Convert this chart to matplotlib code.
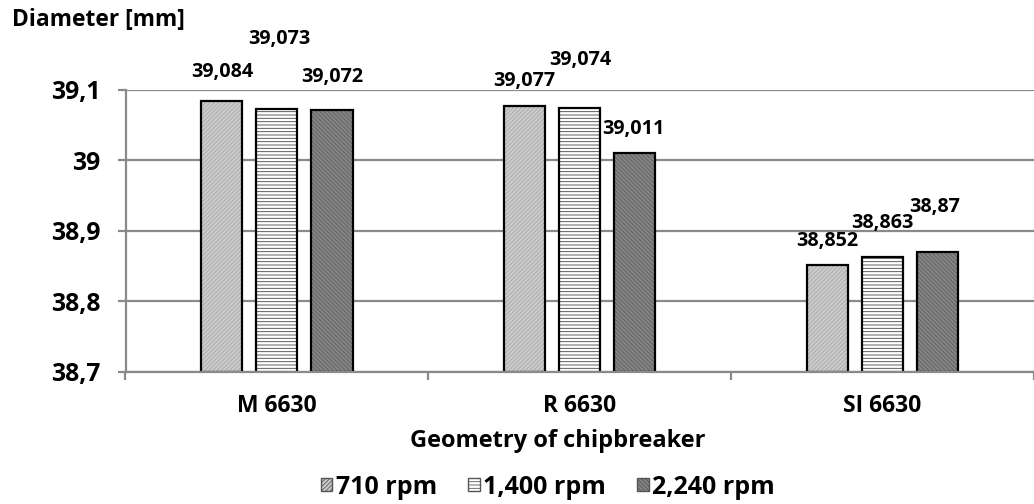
import matplotlib
matplotlib.use("Agg")
import matplotlib.pyplot as plt
import numpy as np
from matplotlib.patches import Patch

plt.rcParams['font.family'] = ['Open Sans', 'DejaVu Sans']
plt.rcParams['font.weight'] = 'bold'
plt.rcParams['hatch.linewidth'] = 0.6

categories = ["M 6630", "R 6630", "SI 6630"]
series_names = ["710 rpm", "1,400 rpm", "2,240 rpm"]
rpm_710 = [39.084, 39.077, 38.852]
rpm_1400 = [39.073, 39.074, 38.863]
rpm_2240 = [39.072, 39.011, 38.870]
labels_710 = ["39,084", "39,077", "38,852"]
labels_1400 = ["39,073", "39,074", "38,863"]
labels_2240 = ["39,072", "39,011", "38,87"]
yticks = [38.7, 38.8, 38.9, 39.0, 39.1]
ytick_labels = ["38,7", "38,8", "38,9", "39", "39,1"]

series = [rpm_710, rpm_1400, rpm_2240]
series_labels = [labels_710, labels_1400, labels_2240]

# label offsets in pixels (dx, dy above bar top), per series per category
offsets_px = [
    [(0, 29.5), (0, 25), (0, 24)],
    [(2.5, 70), (0, 48), (0, 33.5)],
    [(0, 33), (-1, 23.5), (-3, 44.5)],
]

styles = [
    dict(fc="#cccccc", hc="#a8a8a8", hatch="////////"),
    dict(fc="#ffffff", hc="#444444", hatch="-----"),
    dict(fc="#858585", hc="#5e5e5e", hatch="\\\\\\\\\\\\\\\\"),
]

W, H, DPI = 1034, 504, 100
fig = plt.figure(figsize=(W / DPI, H / DPI), dpi=DPI)
left_px, right_px = 125.5, 1034
top_px, bot_px = 90, 371.5
ax = fig.add_axes([left_px / W, 1 - bot_px / H, (right_px - left_px) / W, (bot_px - top_px) / H])

cat_w = 305.5
x = np.arange(len(categories))
ax.set_xlim(-0.5, -0.5 + (right_px - left_px) / cat_w)
ax.set_ylim(38.7, 39.1)

bar_w = 41.5 / cat_w
step = 55.5 / cat_w
gray = "#8a8a8a"

for i, (vals, st) in enumerate(zip(series, styles)):
    pos = x + (i - 1) * step
    ax.bar(pos, np.array(vals) - 38.7, bottom=38.7, width=bar_w, color=st["fc"],
           edgecolor=st["hc"], hatch=st["hatch"], linewidth=0, zorder=3)
    ax.bar(pos, np.array(vals) - 38.7, bottom=38.7, width=bar_w, fill=False,
           edgecolor="black", linewidth=1.6, zorder=4)
    for j, (p, v) in enumerate(zip(pos, vals)):
        dx, dy = offsets_px[i][j]
        ax.annotate(series_labels[i][j], (p, v), xytext=(dx * 0.72, dy * 0.72),
                    textcoords="offset points", ha="center", va="center",
                    fontsize=14.2, fontweight="bold", annotation_clip=False)

ax.set_yticks(yticks)
ax.set_yticklabels(ytick_labels, fontsize=17.8, fontweight="bold")
ax.set_xticks(x)
ax.set_xticklabels(categories, fontsize=16.5, fontweight="bold")
ax.set_xticks(np.arange(-0.5, 3.0, 1.0), minor=True)
ax.tick_params(axis="x", which="major", length=0, pad=16)
ax.tick_params(axis="x", which="minor", length=6, width=1.6, color=gray, direction="out")
ax.tick_params(axis="y", length=6, width=1.6, color=gray, pad=12)

ax.grid(axis="y", color=gray, linewidth=1.6, zorder=0)
ax.set_axisbelow(True)
for s in ["top", "right"]:
    ax.spines[s].set_visible(False)
for s in ["left", "bottom"]:
    ax.spines[s].set_color(gray)
    ax.spines[s].set_linewidth(1.6)
ax.spines["bottom"].set_zorder(5)

fig.text(12 / W, 1 - 20 / H, "Diameter [mm]", fontsize=16.4, fontweight="bold",
         ha="left", va="center")
fig.text(558 / W, 1 - 441 / H, "Geometry of chipbreaker", fontsize=17,
         fontweight="bold", ha="center", va="center")

handles = [Patch(facecolor=st["fc"], edgecolor="#555555", hatch=st["hatch"], linewidth=1.0)
           for st in styles]
leg = fig.legend(handles, series_names, loc="center", bbox_to_anchor=(548 / W, 1 - 487 / H),
                 ncol=3, frameon=False, handlelength=0.45, handleheight=0.45,
                 handletextpad=0.15, columnspacing=1.25,
                 prop=dict(family=['Open Sans', 'DejaVu Sans'], weight="bold", size=18))

fig.savefig("out.png", dpi=DPI)
